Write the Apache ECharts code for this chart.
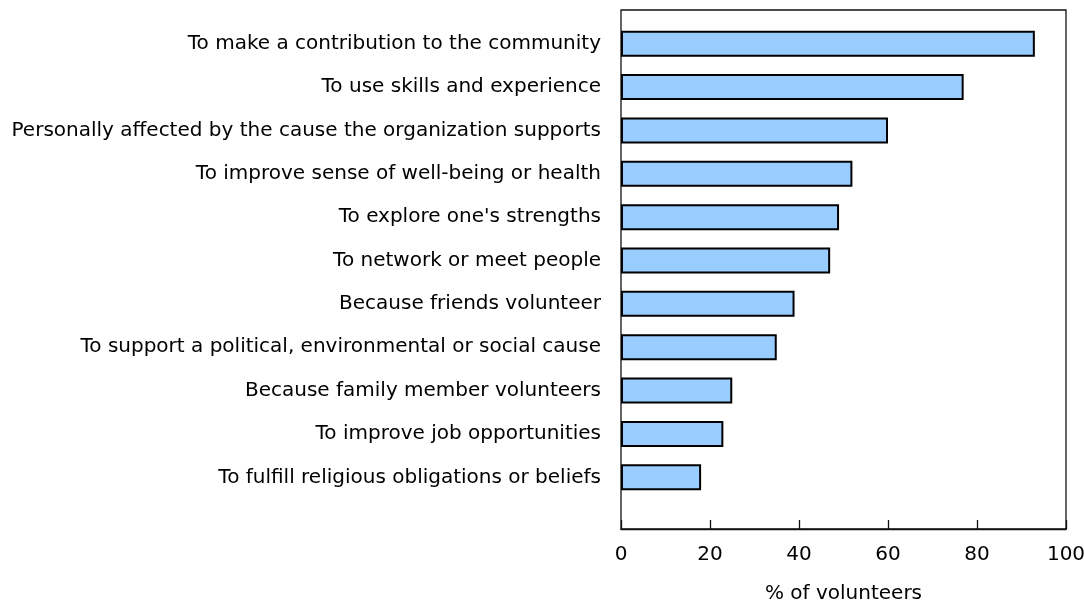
<!DOCTYPE html>
<html>
<head>
<meta charset="utf-8">
<script src="https://cdn.jsdelivr.net/npm/echarts@6/dist/echarts.min.js"></script>
<style>
  html, body { margin: 0; padding: 0; background: #fff; }
  #chart { width: 1084px; height: 602px; }
</style>
</head>
<body>
<div id="chart"></div>
<script>
var categories = [
  'To make a contribution to the community',
  'To use skills and experience',
  'Personally affected by the cause the organization supports',
  'To improve sense of well-being or health',
  "To explore one's strengths",
  'To network or meet people',
  'Because friends volunteer',
  'To support a political, environmental or social cause',
  'Because family member volunteers',
  'To improve job opportunities',
  'To fulfill religious obligations or beliefs'
];
var values = [93, 77, 60, 52, 49, 47, 39, 35, 25, 23, 18];
var xTicks = [0, 20, 40, 60, 80, 100];

var chart = echarts.init(document.getElementById('chart'));
var font = 'DejaVu Sans, Verdana, sans-serif';

var option = {
  animation: false,
  grid: [
    // frame + x axis
    { left: 621, right: 18, top: 10, bottom: 73, show: true, borderColor: '#111', borderWidth: 1.3, outerBoundsMode: 'none', containLabel: false },
    // bars
    { left: 621, right: 18, top: 22, bottom: 103, outerBoundsMode: 'none', containLabel: false }
  ],
  xAxis: [
    {
      gridIndex: 0, type: 'value', min: xTicks[0], max: xTicks[xTicks.length - 1], interval: 20,
      axisLine: { show: true, lineStyle: { color: '#111', width: 1.3 } },
      axisTick: { show: true, inside: true, length: 9, lineStyle: { color: '#111', width: 1.3 } },
      splitLine: { show: false },
      axisLabel: { color: '#000', fontSize: 20, fontFamily: font, margin: 16 },
      name: '% of volunteers', nameLocation: 'middle', nameGap: 55,
      nameTextStyle: { color: '#000', fontSize: 20, fontFamily: font }
    },
    {
      gridIndex: 1, type: 'value', min: 0, max: 100, show: false
    }
  ],
  yAxis: [
    { gridIndex: 0, type: 'value', show: false },
    {
      gridIndex: 1, type: 'category', inverse: true, data: categories,
      axisLine: { show: false },
      axisTick: { show: false },
      axisLabel: { color: '#000', fontSize: 20, fontFamily: font, margin: 20 }
    }
  ],
  series: [
    {
      type: 'bar', xAxisIndex: 1, yAxisIndex: 1,
      data: values,
      barWidth: 26,
      itemStyle: { color: '#99CCFF', borderColor: '#000', borderWidth: 2 }
    }
  ]
};
chart.setOption(option);
</script>
</body>
</html>
